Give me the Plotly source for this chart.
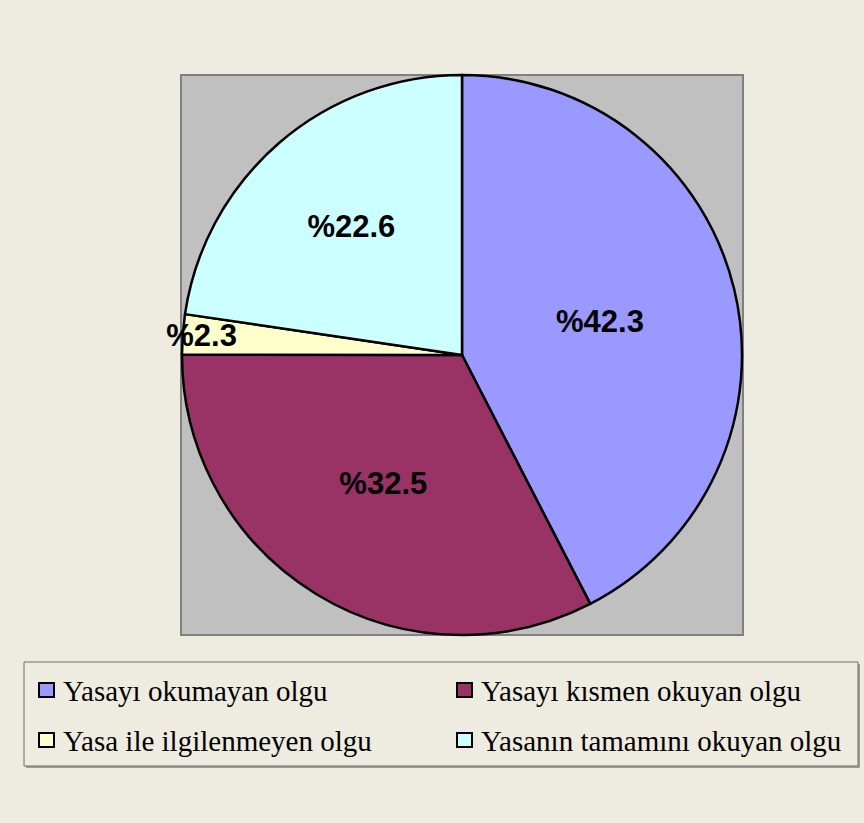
import plotly.graph_objects as go

labels = ["Yasayı okumayan olgu", "Yasayı kısmen okuyan olgu",
          "Yasa ile ilgilenmeyen olgu", "Yasanın tamamını okuyan olgu"]
values = [42.3, 32.5, 2.3, 22.6]
colors = ["#9999FF", "#993366", "#FFFFCC", "#CCFFFF"]

W, H = 864, 823
bg = "#EEEBE0"

def px(x):
    return x / W

def py(y):
    return 1 - y / H

fig = go.Figure()

fig.add_trace(go.Pie(
    labels=labels,
    values=values,
    text=["%" + str(v) for v in values],
    textinfo="text",
    textposition="inside",
    insidetextorientation="horizontal",
    textfont=dict(family="Liberation Sans", size=31, color="black", weight="bold"),
    marker=dict(colors=colors, line=dict(color="black", width=2.5)),
    sort=False,
    direction="clockwise",
    rotation=0,
    hoverinfo="label+percent",
    domain=dict(x=[px(181), px(743)], y=[py(635), py(75)]),
    showlegend=False,
))

shapes = [
    # plot area
    dict(type="rect", xref="paper", yref="paper", layer="below",
         x0=px(181), x1=px(743), y0=py(635), y1=py(75),
         fillcolor="#C0C0C0", line=dict(color="#808080", width=2)),
    # legend shadow + box
    dict(type="rect", xref="paper", yref="paper", layer="below",
         x0=px(26), x1=px(860), y0=py(768), y1=py(664),
         fillcolor="#A09E98", line=dict(width=0)),
    dict(type="rect", xref="paper", yref="paper", layer="below",
         x0=px(24), x1=px(858), y0=py(766), y1=py(662),
         fillcolor=bg, line=dict(color="#6E6E6E", width=1)),
]

annotations = []
# hand-drawn legend, 2 columns x 2 rows
cols_x = [39, 457]
rows_y = [690, 740]
for i, (lab, col) in enumerate(zip(labels, colors)):
    x0 = cols_x[i % 2]
    yc = rows_y[i // 2]
    shapes.append(dict(type="rect", xref="paper", yref="paper",
                       x0=px(x0), x1=px(x0 + 15), y0=py(yc + 7), y1=py(yc - 7),
                       fillcolor=col, line=dict(color="black", width=2)))
    annotations.append(dict(text=lab, xref="paper", yref="paper",
                            x=px(x0 + 22), y=py(yc + 1), xanchor="left", yanchor="middle",
                            showarrow=False,
                            font=dict(family="Liberation Serif", size=29, color="black")))

fig.update_layout(
    width=W, height=H,
    margin=dict(l=0, r=0, t=0, b=0),
    paper_bgcolor=bg,
    plot_bgcolor=bg,
    shapes=shapes,
    annotations=annotations,
    uniformtext=dict(minsize=31, mode="show"),
)

# drop the default page margin so the figure sits at the window's corner
fig.write_html("out.html", config={"displayModeBar": False},
               post_script="document.body.style.margin='0';")
